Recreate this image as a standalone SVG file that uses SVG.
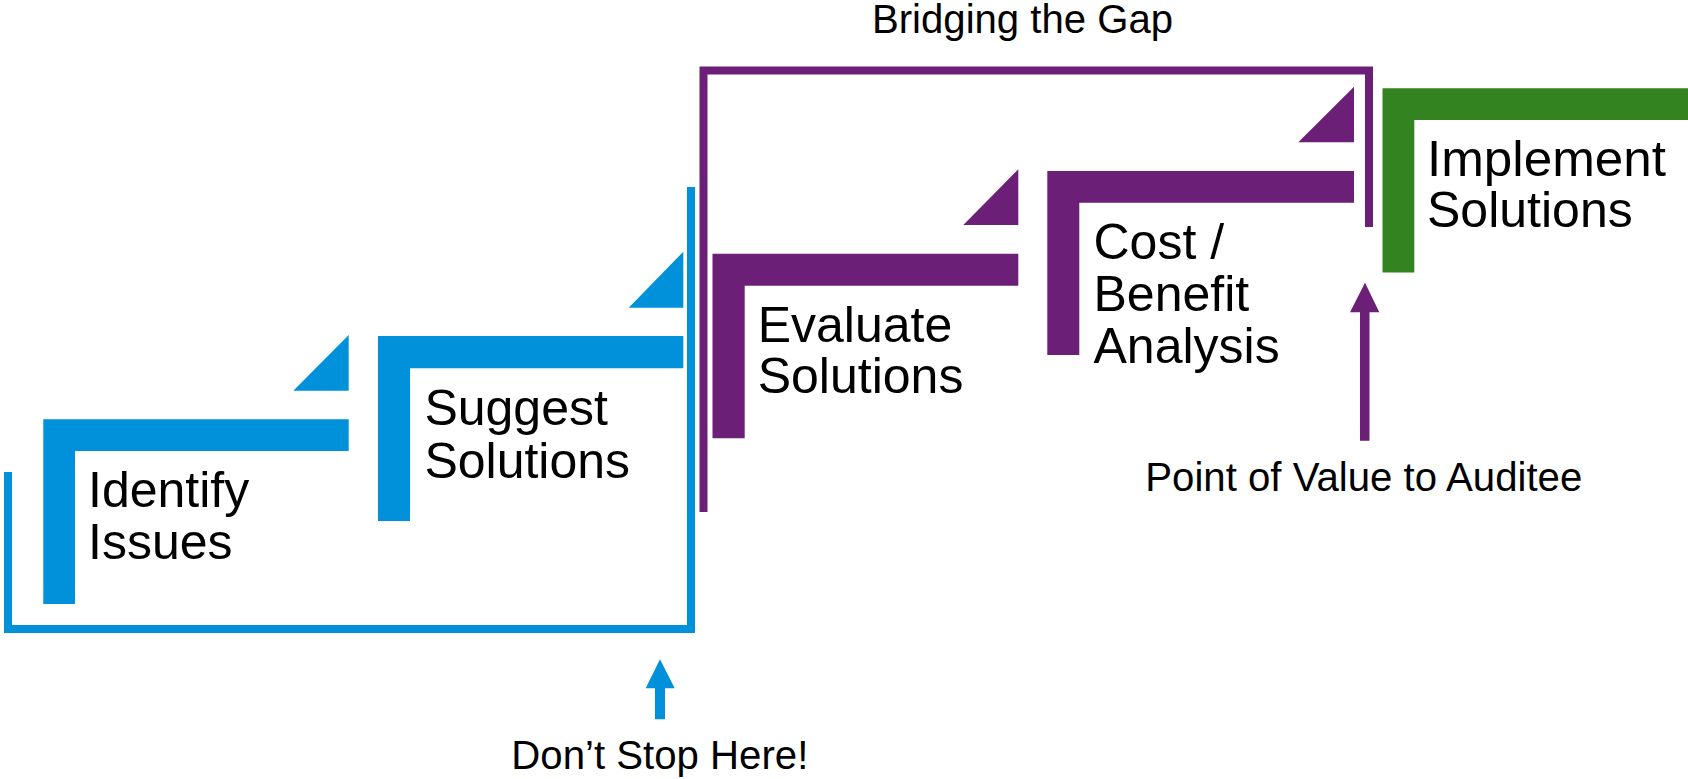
<svg xmlns="http://www.w3.org/2000/svg" width="1688" height="779" viewBox="0 0 1688 779">
<style>
.bl{fill:#0091DA}
.pu{fill:#6C1F77}
.gr{fill:#338321}
.t{font-family:"Liberation Sans",Arial,sans-serif;fill:#000}
.big{font-size:50px}
.sm{font-size:40px}
.lb{fill:none;stroke:#0091DA;stroke-width:8;stroke-linejoin:miter}
.lp{fill:none;stroke:#6C1F77;stroke-width:8;stroke-linejoin:miter}
</style>
<rect width="1688" height="779" fill="#fff"/>
<g id="connectors">
<polyline class="lb" points="8,472 8,629 691,629 691,187"/>
<polyline class="lp" points="703.5,512 703.5,70.5 1369,70.5 1369,227"/>
<path id="arrow-dont-stop" class="bl" d="M660,659.3 L674.7,688.3 L665,688.3 L665,719.3 L655,719.3 L655,688.3 L645.7,688.3 Z"/>
<path id="arrow-point-of-value" class="pu" d="M1365,282.7 L1379.3,312.3 L1369.5,312.3 L1369.5,440.7 L1360,440.7 L1360,312.3 L1350,312.3 Z"/>
</g>
<g id="identify">
<path class="bl" d="M43.3,419.3 H348.7 V451 H75 V604 H43.3 Z"/>
<polygon class="bl" points="293.3,390.7 348.7,335 348.7,390.7"/>
<text class="t big" x="88" y="507">Identify</text>
<text class="t big" x="88" y="559">Issues</text>
</g>
<g id="suggest">
<path class="bl" d="M378,336 H683.3 V368.3 H410 V521 H378 Z"/>
<polygon class="bl" points="628.7,307.7 683.3,251.7 683.3,307.7"/>
<text class="t big" x="424.4" y="425">Suggest</text>
<text class="t big" x="424.4" y="477.5">Solutions</text>
</g>
<g id="evaluate">
<path class="pu" d="M712.5,253.7 H1018.3 V285.7 H744.7 V438.3 H712.5 Z"/>
<polygon class="pu" points="963.3,225 1018.3,169.3 1018.3,225"/>
<text class="t big" x="757.7" y="341.7">Evaluate</text>
<text class="t big" x="757.7" y="393.3">Solutions</text>
</g>
<g id="cost-benefit">
<path class="pu" d="M1047.3,171 H1354 V202.7 H1079.3 V355 H1047.3 Z"/>
<polygon class="pu" points="1298.3,142.3 1354,86.7 1354,142.3"/>
<text class="t big" x="1093.5" y="259">Cost /</text>
<text class="t big" x="1093.5" y="310.7">Benefit</text>
<text class="t big" x="1093.5" y="363">Analysis</text>
</g>
<g id="implement">
<path class="gr" d="M1382.5,88.3 H1688 V120 H1414.3 V272.5 H1382.5 Z"/>
<text class="t big" x="1427" y="176" textLength="239" lengthAdjust="spacingAndGlyphs">Implement</text>
<text class="t big" x="1427" y="227">Solutions</text>
</g>
<g id="labels">
<text class="t sm" x="872" y="33" textLength="301" lengthAdjust="spacingAndGlyphs">Bridging the Gap</text>
<text class="t sm" x="1145.3" y="490.7" textLength="437" lengthAdjust="spacingAndGlyphs">Point of Value to Auditee</text>
<text class="t sm" x="511.3" y="769" textLength="297" lengthAdjust="spacingAndGlyphs">Don’t Stop Here!</text>
</g>
</svg>
